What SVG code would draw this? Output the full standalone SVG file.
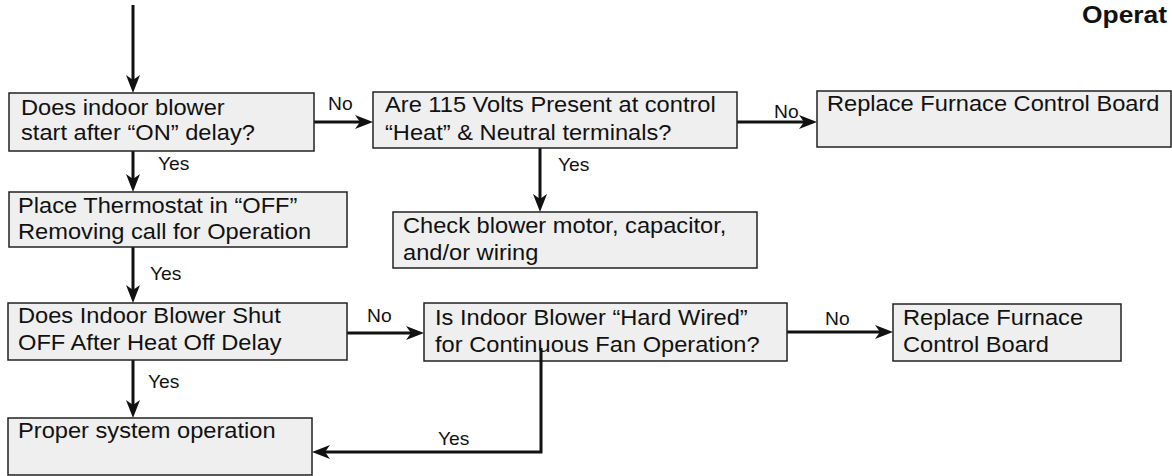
<svg xmlns="http://www.w3.org/2000/svg" width="1172" height="476" viewBox="0 0 1172 476">
<style>
.box{fill:#efefef;stroke:#222;stroke-width:1.5}
.t{font-family:"Liberation Sans",Arial,sans-serif;font-size:21.5px;fill:#111}
.l{font-family:"Liberation Sans",Arial,sans-serif;font-size:17.5px;fill:#111}
.title{font-family:"Liberation Sans",Arial,sans-serif;font-size:24px;font-weight:bold;fill:#111}
.c{fill:none;stroke:#111;stroke-width:3}
.a{marker-end:url(#ah)}
</style>
<defs>
<marker id="ah" markerUnits="userSpaceOnUse" viewBox="-11 -8 20 16" markerWidth="20" markerHeight="16" refX="0" refY="0" orient="auto">
<path d="M8,0 L-10,-7 L-5,0 L-10,7 Z" fill="#111"/>
</marker>
</defs>
<text class="title" transform="translate(1082,23) scale(1.1,1)">Operat</text>
<g id="connectors">
<line class="c a" x1="133" y1="5" x2="133" y2="85"/>
<line class="c a" x1="314" y1="122" x2="365" y2="122"/>
<line class="c a" x1="737" y1="122" x2="809" y2="122"/>
<line class="c a" x1="540" y1="148" x2="540" y2="204"/>
<line class="c a" x1="133" y1="151" x2="133" y2="184"/>
<line class="c a" x1="133" y1="247" x2="133" y2="295"/>
<line class="c a" x1="347" y1="333" x2="416" y2="333"/>
<line class="c a" x1="787" y1="332" x2="885" y2="332"/>
<line class="c a" x1="133" y1="360" x2="133" y2="410"/>
<text class="l" transform="translate(328,110) scale(1.1,1)">No</text>
<text class="l" transform="translate(774,118) scale(1.1,1)">No</text>
<text class="l" transform="translate(558,171) scale(1.1,1)">Yes</text>
<text class="l" transform="translate(158,170) scale(1.1,1)">Yes</text>
<text class="l" transform="translate(150,280) scale(1.1,1)">Yes</text>
<text class="l" transform="translate(367,322) scale(1.1,1)">No</text>
<text class="l" transform="translate(825,325) scale(1.1,1)">No</text>
<text class="l" transform="translate(148,388) scale(1.1,1)">Yes</text>
<text class="l" transform="translate(438,445) scale(1.1,1)">Yes</text>
</g>
<g id="n1">
<rect class="box" x="9" y="93" width="305" height="58"/>
<text class="t" transform="translate(21,115) scale(1.1,1)">Does indoor blower</text>
<text class="t" transform="translate(21,140) scale(1.1,1)">start after “ON” delay?</text>
</g>
<g id="n2">
<rect class="box" x="9" y="192" width="338" height="55"/>
<text class="t" transform="translate(18,213) scale(1.1,1)">Place Thermostat in “OFF”</text>
<text class="t" transform="translate(18,239) scale(1.1,1)">Removing call for Operation</text>
</g>
<g id="n3">
<rect class="box" x="373" y="92" width="364" height="56"/>
<text class="t" transform="translate(385,112) scale(1.1,1)">Are 115 Volts Present at control</text>
<text class="t" transform="translate(385,140) scale(1.1,1)">“Heat” &amp; Neutral terminals?</text>
</g>
<g id="n4">
<rect class="box" x="393" y="212" width="364" height="56"/>
<text class="t" transform="translate(403,233) scale(1.1,1)">Check blower motor, capacitor,</text>
<text class="t" transform="translate(403,260) scale(1.1,1)">and/or wiring</text>
</g>
<g id="n5">
<rect class="box" x="817" y="91" width="354" height="56"/>
<text class="t" transform="translate(827,111) scale(1.1,1)">Replace Furnace Control Board</text>
</g>
<g id="n6">
<rect class="box" x="8" y="303" width="339" height="57"/>
<text class="t" transform="translate(18,323) scale(1.1,1)">Does Indoor Blower Shut</text>
<text class="t" transform="translate(18,350) scale(1.1,1)">OFF After Heat Off Delay</text>
</g>
<g id="n7">
<rect class="box" x="8" y="418" width="304" height="57"/>
<text class="t" transform="translate(18,438) scale(1.1,1)">Proper system operation</text>
</g>
<g id="n8">
<rect class="box" x="424" y="303" width="363" height="58"/>
<text class="t" transform="translate(435,325) scale(1.1,1)">Is Indoor Blower “Hard Wired”</text>
<text class="t" transform="translate(435,352) scale(1.1,1)">for Continuous Fan Operation?</text>
</g>
<g id="n9">
<rect class="box" x="893" y="304" width="228" height="57"/>
<text class="t" transform="translate(903,325) scale(1.1,1)">Replace Furnace</text>
<text class="t" transform="translate(903,352) scale(1.1,1)">Control Board</text>
</g>
<g id="return-connector">
<path class="c a" d="M541,348 V452 H320"/>
</g>
</svg>
